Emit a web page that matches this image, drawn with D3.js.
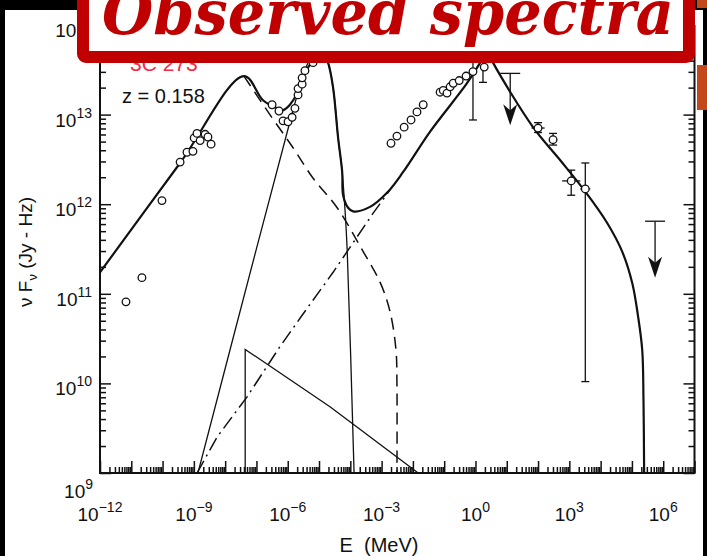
<!DOCTYPE html>
<html>
<head>
<meta charset="utf-8">
<script src="https://cdn.jsdelivr.net/npm/d3@7"></script>
<style>
body { margin: 0; background: #000; }
svg { display: block; }
text { font-family: Arial, "Liberation Sans", sans-serif; fill: #111; }
</style>
</head>
<body>
<script>
const svgWidth = 707
const svgHeight = 556

// all values are log10: E in MeV, nuFnu in Jy-Hz
const totalLogE = [-12.00, -9.44, -7.40, -6.79, -6.34, -6.15, -5.93, -5.70, -5.51, -5.29, -5.00, -4.71, -4.55, -4.39, -4.26, -4.23, -4.07, -3.91, -3.37, -2.82, -2.31, -1.45, -0.27, 0.15, 0.37, 0.56, 1.84, 2.71, 3.51, 4.21, 4.69, 5.01, 5.20, 5.33, 5.37, 5.39]
const totalLogF = [11.24, 12.46, 13.43, 13.16, 13.07, 13.05, 13.11, 13.24, 13.44, 13.56, 13.81, 13.58, 13.30, 12.74, 12.36, 12.10, 11.96, 11.92, 11.97, 12.13, 12.36, 12.81, 13.35, 13.58, 13.72, 13.58, 12.86, 12.49, 12.14, 11.79, 11.47, 11.12, 10.74, 10.37, 9.81, 9.00]

const thinLogE = [-8.87, -7.01, -5.93, -5.51, -5.29, -5.00, -4.71, -4.55, -4.39, -4.26, -4.17, -4.10, -3.88]
const thinLogF = [9.00, 11.49, 12.92, 13.44, 13.63, 13.83, 13.58, 13.30, 12.74, 12.36, 11.94, 11.49, 9.00]

const synLogE = [-7.40, -6.57, -5.83, -5.19, -4.42, -3.62, -3.05, -2.73, -2.54, -2.51, -2.51]
const synLogF = [13.43, 13.00, 12.63, 12.29, 11.96, 11.49, 11.13, 10.80, 10.37, 10.00, 9.00]

const compLogE = [-8.90, -8.26, -7.30, -6.25, -5.54, -4.55, -3.27, -2.73]
const compLogF = [9.00, 9.40, 9.85, 10.41, 10.76, 11.24, 11.90, 12.16]

const triLogE = [-7.36, -7.36, -4.65, -1.83]
const triLogF = [9.00, 10.38, 9.74, 9.00]

// observed points
const ptLogE = [-11.17, -10.66, -10.02, -9.44, -9.22, -9.03, -8.99, -8.90, -8.80, -8.64, -8.55, -8.45,
    -6.50, -6.28, -6.15, -5.99, -5.86, -5.77, -5.67, -5.67, -5.54, -5.54, -5.45, -5.19,
    -2.70, -2.51, -2.28, -2.06, -1.87, -1.67,
    -1.13, -1.03, -0.91, -0.81, -0.71, -0.52, -0.30, -0.08, 0.28]
const ptLogF = [10.91, 11.18, 12.04, 12.47, 12.58, 12.59, 12.74, 12.79, 12.71, 12.78, 12.75, 12.67,
    13.11, 13.04, 12.93, 12.92, 12.97, 13.07, 13.22, 13.29, 13.34, 13.41, 13.49, 13.58,
    12.68, 12.76, 12.86, 12.94, 13.03, 13.11,
    13.25, 13.27, 13.24, 13.31, 13.35, 13.38, 13.43, 13.48, 13.53]

// points with error bars (log E, log F, +-x, low F, high F)
const ebLogE = [2.00, 2.48, 3.06, 3.51]
const ebLogF = [12.85, 12.72, 12.26, 12.17]
const ebDx = [0.21, 0.13, 0.29, 0.16]
const ebLo = [12.80, 12.66, 12.10, 10.02]
const ebHi = [12.91, 12.79, 12.38, 12.46]

// bare error bars near 1 MeV
const barLogE = [-0.08, 0.24]
const barLo = [12.94, 13.36]
const barHi = [13.70, 13.53]

// upper limits
const ulLogE = [1.11, 5.74]
const ulTop = [13.46, 11.81]
const ulTip = [12.88, 11.18]

const xExps = [-12, -9, -6, -3, 0, 3, 6]
const yExps = [9, 10, 11, 12, 13, 14]

const p = v => Math.pow(10, v)
const zip = (a, b) => a.map((v, i) => [p(v), p(b[i])])

const x = d3.scaleLog().domain([1e-12, 1e7]).range([100, 694.5])
const y = d3.scaleLog().domain([1e9, 1e14]).range([473, 25])

const svg = d3.select("body").append("svg")
    .attr("width", svgWidth)
    .attr("height", svgHeight)

// scanned page
svg.append("rect").attr("x", 5).attr("y", 10).attr("width", 698).attr("height", 546).attr("fill", "#fff")
svg.append("rect").attr("x", 697).attr("y", 65).attr("width", 10).attr("height", 45).attr("fill", "#c4491a")
svg.append("rect").attr("x", 697).attr("y", 0).attr("width", 10).attr("height", 8).attr("fill", "#c4491a")

svg.append("clipPath").attr("id", "plot")
    .append("rect").attr("x", 100).attr("y", 25).attr("width", 594.5).attr("height", 448)

// ticks
const minorX = [], majorX = [], minorY = [], majorY = []
for (let k = -12; k <= 7; k++) {
    majorX.push(p(k))
    if (k < 7) for (let m = 2; m < 10; m++) minorX.push(m * p(k))
}
for (let k = 9; k <= 14; k++) {
    majorY.push(p(k))
    if (k < 14) for (let m = 2; m < 10; m++) minorY.push(m * p(k))
}

function tickAxis(axis, tf) {
    const g = svg.append("g").attr("transform", tf).call(axis)
    g.select(".domain").remove()
    g.selectAll("line").attr("stroke", "#111").attr("stroke-width", 1.5)
    g.selectAll("text").remove()
}
tickAxis(d3.axisBottom(x).tickValues(minorX).tickSize(-6), "translate(0,473)")
tickAxis(d3.axisBottom(x).tickValues(majorX).tickSize(-12), "translate(0,473)")
tickAxis(d3.axisLeft(y).tickValues(minorY).tickSize(-6), "translate(100,0)")
tickAxis(d3.axisLeft(y).tickValues(majorY).tickSize(-11), "translate(100,0)")
tickAxis(d3.axisRight(y).tickValues(minorY).tickSize(-6), "translate(694.5,0)")
tickAxis(d3.axisRight(y).tickValues(majorY).tickSize(-11), "translate(694.5,0)")

svg.append("path")
    .attr("d", `M100,25V473H694.5V25`)
    .attr("fill", "none").attr("stroke", "#111").attr("stroke-width", 2)

// tick labels
const xl = svg.append("g").selectAll("text").data(xExps).join("text")
    .attr("x", d => x(p(d)))
    .attr("y", 521)
    .attr("text-anchor", "middle")
    .attr("font-size", 19)
xl.append("tspan").text("10")
xl.append("tspan").attr("dy", -9).attr("font-size", 14).text(d => String(d).replace("-", "\u2212"))

const yl = svg.append("g").selectAll("text").data(yExps).join("text")
    .attr("x", d => d === 9 ? 93 : 92)
    .attr("y", d => y(p(d)) + (d === 9 ? 25 : 12))
    .attr("text-anchor", "end")
    .attr("font-size", 19)
yl.append("tspan").text("10")
yl.append("tspan").attr("dy", -9).attr("font-size", 14).text(d => d)

// axis titles
svg.append("text")
    .attr("x", 379).attr("y", 552)
    .attr("text-anchor", "middle")
    .attr("font-size", 20)
    .attr("xml:space", "preserve")
    .text("E  (MeV)")

const yt = svg.append("text")
    .attr("transform", "translate(32,252) rotate(-90)")
    .attr("text-anchor", "middle")
    .attr("font-size", 19)
yt.append("tspan").text("\u03bd F")
yt.append("tspan").attr("font-size", 13).attr("dy", 5).text("\u03bd")
yt.append("tspan").attr("dy", -5).text(" (Jy - Hz)")

// model curves
const plotG = svg.append("g").attr("clip-path", "url(#plot)")
const smooth = d3.line().x(d => x(d[0])).y(d => y(d[1])).curve(d3.curveCatmullRom.alpha(0.5))
const straight = d3.line().x(d => x(d[0])).y(d => y(d[1]))

plotG.append("path").attr("d", smooth(zip(synLogE, synLogF)))
    .attr("fill", "none").attr("stroke", "#111").attr("stroke-width", 1.5).attr("stroke-dasharray", "12,7")
plotG.append("path").attr("d", straight(zip(compLogE, compLogF)))
    .attr("fill", "none").attr("stroke", "#111").attr("stroke-width", 1.5).attr("stroke-dasharray", "14,5,2,5")
plotG.append("path").attr("d", straight(zip(triLogE, triLogF)))
    .attr("fill", "none").attr("stroke", "#111").attr("stroke-width", 1.3)
plotG.append("path").attr("d", smooth(zip(thinLogE, thinLogF)))
    .attr("fill", "none").attr("stroke", "#111").attr("stroke-width", 1.3)
plotG.append("path").attr("d", smooth(zip(totalLogE, totalLogF)))
    .attr("fill", "none").attr("stroke", "#111").attr("stroke-width", 2.2)

// error bars
const ebG = svg.append("g").attr("stroke", "#111").attr("stroke-width", 1.3)
ebLogE.forEach((e, i) => {
    const cx = x(p(e)), lo = y(p(ebLo[i])), hi = y(p(ebHi[i]))
    ebG.append("line").attr("x1", x(p(e - ebDx[i]))).attr("x2", x(p(e + ebDx[i]))).attr("y1", y(p(ebLogF[i]))).attr("y2", y(p(ebLogF[i])))
    ebG.append("line").attr("x1", cx).attr("x2", cx).attr("y1", hi).attr("y2", lo)
    ebG.append("line").attr("x1", cx - 4).attr("x2", cx + 4).attr("y1", hi).attr("y2", hi)
    ebG.append("line").attr("x1", cx - 4).attr("x2", cx + 4).attr("y1", lo).attr("y2", lo)
})
barLogE.forEach((e, i) => {
    const cx = x(p(e)), lo = y(p(barLo[i])), hi = y(p(barHi[i]))
    ebG.append("line").attr("x1", cx).attr("x2", cx).attr("y1", hi).attr("y2", lo)
    ebG.append("line").attr("x1", cx - 4).attr("x2", cx + 4).attr("y1", lo).attr("y2", lo)
})

// upper limits
ulLogE.forEach((e, i) => {
    const cx = x(p(e)), top = y(p(ulTop[i])), tip = y(p(ulTip[i]))
    ebG.append("line").attr("x1", cx - 10).attr("x2", cx + 10).attr("y1", top).attr("y2", top)
    ebG.append("line").attr("x1", cx).attr("x2", cx).attr("y1", top).attr("y2", tip - 10)
    svg.append("path")
        .attr("d", `M${cx},${tip}L${cx - 7},${tip - 21}L${cx},${tip - 15}L${cx + 7},${tip - 21}Z`)
        .attr("fill", "#111")
})

// observed points
svg.append("g").selectAll("circle").data(zip(ptLogE, ptLogF).concat(zip(ebLogE, ebLogF))).join("circle")
    .attr("cx", d => x(d[0]))
    .attr("cy", d => y(d[1]))
    .attr("r", 3.8)
    .attr("fill", "#fff")
    .attr("stroke", "#111")
    .attr("stroke-width", 1.3)

// annotations
svg.append("text").attr("x", 130).attr("y", 71).attr("font-size", 21).style("fill", "#f0284a").text("3C 273")
svg.append("text").attr("x", 122).attr("y", 103).attr("font-size", 20).text("z = 0.158")

// title box
svg.append("rect")
    .attr("x", 83).attr("y", -30)
    .attr("width", 606).attr("height", 87)
    .attr("fill", "#fff")
    .attr("stroke", "#c00000")
    .attr("stroke-width", 12)
    .attr("rx", 3)
svg.append("text")
    .attr("x", 102).attr("y", 34)
    .attr("textLength", 572)
    .attr("lengthAdjust", "spacingAndGlyphs")
    .attr("font-size", 62)
    .attr("font-weight", "bold")
    .attr("font-style", "italic")
    .style("font-family", "'DejaVu Serif', serif")
    .style("fill", "#c00000")
    .text("Observed spectra")
</script>
</body>
</html>
